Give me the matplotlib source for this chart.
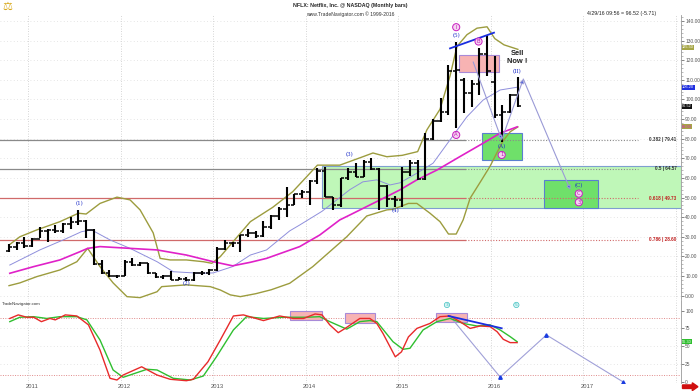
import matplotlib
matplotlib.use('Agg')
import numpy as np
import matplotlib.pyplot as plt
from matplotlib.patches import Rectangle, FancyArrow

# monthly bars, index 0 = Oct 2010 ... 66 = Apr 2016
bar_open = [23.0, 25.0, 27.0, 25.2, 29.0, 33.0, 33.5, 33.2, 36.5, 37.5,
            37.9, 33.6, 16.2, 11.5, 9.9, 10.0, 17.2, 15.8, 16.4, 11.5,
            9.3, 9.8, 8.1, 8.7, 7.8, 11.5, 11.6, 13.2, 23.6, 26.9,
            27.0, 30.9, 32.1, 30.2, 34.9, 40.4, 44.2, 46.1, 52.0, 52.6,
            58.4, 63.7, 50.3, 46.0, 59.7, 62.9, 60.3, 68.1, 64.5, 56.1,
            49.3, 48.8, 63.1, 67.8, 59.5, 79.6, 89.2, 93.8, 114.3, 110.0,
            103.3, 108.0, 123.3, 109.0, 91.8, 93.4, 102.2]
bar_high = [26.1, 27.5, 30.0, 29.5, 35.2, 34.0, 36.0, 37.0, 40.0, 43.7,
            38.6, 34.0, 18.0, 13.0, 10.5, 18.2, 19.0, 17.3, 16.7, 11.6,
            10.4, 12.4, 9.7, 9.4, 12.2, 12.7, 13.6, 25.0, 28.4, 27.5,
            31.0, 33.8, 33.0, 38.0, 41.0, 45.0, 55.5, 52.0, 54.0, 59.0,
            65.0, 65.7, 50.5, 60.0, 65.0, 67.6, 69.0, 70.0, 65.0, 56.5,
            51.0, 65.6, 69.0, 69.0, 83.0, 90.0, 100.7, 117.5, 129.0, 111.0,
            110.0, 126.0, 133.0, 122.0, 97.0, 103.0, 111.5]
bar_low = [22.2, 23.3, 24.2, 25.0, 29.3, 27.5, 32.0, 32.0, 34.0, 36.0,
           29.3, 15.6, 11.0, 9.4, 9.2, 10.0, 15.0, 15.0, 11.2, 9.0,
           8.7, 8.0, 8.1, 7.3, 7.6, 10.4, 10.5, 12.7, 23.3, 25.0,
           22.4, 30.0, 29.5, 30.0, 34.0, 38.6, 40.3, 46.0, 50.0, 46.0,
           57.0, 50.2, 43.7, 45.4, 59.0, 60.3, 60.3, 64.0, 43.7, 45.4,
           45.0, 45.3, 61.0, 58.8, 59.0, 79.4, 88.4, 92.0, 85.4, 93.3,
           96.0, 102.0, 112.0, 90.5, 78.4, 93.0, 96.0]
bar_close = [25.0, 27.0, 25.2, 29.0, 33.0, 33.5, 33.2, 36.5, 37.5, 37.9,
             33.6, 16.2, 11.5, 9.9, 9.9, 17.2, 15.8, 16.4, 11.5, 9.3,
             9.8, 8.1, 8.7, 7.8, 11.5, 11.6, 13.2, 23.6, 26.9, 27.0,
             30.9, 32.1, 30.2, 34.9, 40.4, 44.2, 46.1, 52.0, 52.6, 58.4,
             63.7, 50.3, 46.0, 59.7, 62.9, 60.3, 68.1, 64.5, 56.1, 49.3,
             48.8, 63.1, 67.8, 59.5, 79.6, 89.2, 93.8, 114.3, 115.0, 103.3,
             108.0, 123.3, 114.4, 91.8, 93.4, 102.2, 96.5]

# overlay lines (month index, value)
bb_up_x = [0, 1.4, 3.6, 6.6, 9, 10, 11.8, 14, 15.7, 17, 18.7, 19.6, 20.9, 23, 25.2, 26.3,
           27.4, 31.3, 34.2, 36.8, 40, 42.9, 45.9, 47.2, 49, 51, 53, 54.2, 55.9, 57.2,
           58.1, 59.4, 60.7, 62, 63, 64.2, 66]
bb_up = [25.8, 30, 33.5, 37.7, 42, 41.6, 47, 50.2, 48.8, 43.7, 32, 19, 18.2, 18.2, 17.3, 16.5,
         19.9, 37.7, 45, 53, 66.5, 66.5, 70.8, 72.7, 70.8, 71.5, 73.4, 84.5, 95, 112,
         127, 133, 136.3, 137, 131, 127.8, 125.5]
bb_lo_x = [0, 1.4, 3.6, 6.6, 8.8, 10.2, 11.8, 13.5, 15.3, 17, 19.2, 19.8, 23, 26.1, 27.4,
           28.7, 30, 32, 34, 36.4, 39.4, 41.6, 43.8, 46.4, 49, 49.8, 51.8, 52.9, 54.6, 55.9,
           57, 58, 58.9, 59.8, 61.3, 62.4, 63.3, 64.1, 65, 66]
bb_lo = [5.1, 6.5, 9.7, 13.1, 17.3, 24.1, 14.8, 6.5, -0.5, -1.0, 2.0, 4.6, 5.5, 4.6, 2.9,
         0.4, -0.5, 1.0, 3.0, 6.3, 14.8, 22.4, 30, 40.6, 43.7, 44, 47, 47, 42, 37.7,
         31.4, 31.4, 38.6, 49.6, 59, 66, 73, 79, 83.5, 86]
ma_fast_x = [0.1, 4, 7.5, 9.4, 10.7, 13.1, 15.7, 19.2, 21.3, 24.8, 26.5, 29, 31.3, 33.4,
             36.4, 37.7, 40.6, 42.9, 44.2, 45.9, 47.7, 49.4, 50.7, 52.9, 55, 57.2, 59.4,
             61.5, 63.7, 65.9]
ma_fast = [15.6, 23.3, 29.2, 32.6, 33.5, 28.4, 24.1, 17.3, 12.2, 11.4, 11.6, 14.8, 20.7, 23.3,
           33, 36, 43, 50, 54, 58, 59, 56.4, 57.5, 62.4, 67.5, 79.4, 91.2, 99.7, 104.8, 106.2]
ma_slow_x = [0.1, 3.2, 6.6, 9.2, 10.2, 11.8, 15.7, 19.2, 23, 26.5, 29, 31.3, 33.4, 37.7,
             40.3, 42.9, 44.2, 46.8, 49, 50.7, 52.9, 55.5, 58.5, 61.5, 63.7, 65.9]
ma_slow = [11.4, 14.8, 18.2, 22.4, 24.1, 25, 24.1, 23.3, 20.7, 17.3, 15.2, 17, 19, 25,
           30.9, 38.6, 41.1, 46.2, 50.5, 53.9, 59, 64, 70.9, 77.7, 82.8, 86]

# stochastic panel
stoch_k_x = [0.1, 1.2, 2.3, 3.2, 4.2, 5.3, 6, 7.3, 8.8, 10.3, 11.8, 13.1, 14, 14.8, 17.2,
             19.2, 20.9, 23, 23.9, 25.8, 27.4, 29.1, 30.4, 33, 35.1, 36.9, 38.2, 39.7, 40.6,
             41.6, 42.7, 43.6, 45.5, 46.8, 47.7, 48.5, 50.1, 50.9, 51.8, 52.9, 54.6, 55.9,
             57.2, 58.5, 59.8, 61.1, 62.4, 63.3, 64.1, 65, 65.9]
stoch_k = [89, 94, 90.7, 90.7, 84.5, 89, 87, 94, 92.5, 80, 44.6, 4.8, 2.4, 9.4, 21,
           9.4, 3.4, 1.4, 3.4, 28, 58.7, 92.5, 94, 86, 92.5, 89, 89, 95.3, 94,
           80, 69, 75, 89, 89, 82, 68, 35, 42, 63, 75, 82, 91.5,
           92.5, 84.5, 75, 78.4, 77.5, 70.4, 59.7, 55, 55]
stoch_d_x = [0.1, 1.4, 3.2, 4.9, 6.6, 8.8, 10.1, 11.8, 13.5, 14.8, 17.9, 19.2, 21.3, 23.5,
             25.2, 26.9, 29.1, 30.8, 33, 35.6, 38.6, 40.3, 41.6, 43.8, 45.5, 46.8, 47.7,
             49.8, 51.1, 52, 53.7, 55.5, 57.2, 58.9, 60.7, 62.4, 63.7, 65, 65.9]
stoch_d = [84.5, 90.7, 91.5, 89, 91.5, 91.5, 87, 58.7, 16.5, 6.2, 17.5, 16.5, 4.8, 2.4,
           8, 35, 72.8, 91.5, 89, 90.7, 90.7, 91.5, 84.5, 74, 84.5, 86, 84.5,
           56.3, 45.6, 47, 72.8, 84.5, 89, 82, 78.4, 80, 72.8, 63.4, 56.3]

fib_levels = ['0.382', '0.5', '0.618', '0.786']
fib_prices = [79.41, 64.57, 49.73, 28.60]
fib_colors = ['#8a8a8a', '#8a8a8a', '#d06a6a', '#d06a6a']

year_labels = ['2011', '2012', '2013', '2014', '2015', '2016', '2017']
price_ticks = list(range(0, 141, 10))
osc_ticks = [0, 25, 50, 75, 100]

SMALL = 'Liberation Sans'

fig = plt.figure(figsize=(7, 3.91), dpi=100)
ax = fig.add_axes([0, 0.2363, 0.9729, 0.7253])
ax2 = fig.add_axes([0, 0.0205, 0.9729, 0.2123], sharex=ax)

xmin, xmax = -1.17, 87.16
grid_c = '#c8c8c8'
for a in (ax, ax2):
    for s in ('left', 'top', 'bottom'):
        a.spines[s].set_visible(False)
    a.spines['right'].set_color('#999999')
    a.spines['right'].set_linewidth(0.6)
    a.yaxis.tick_right()
    for k in range(8):
        a.axvline(2.5 + 12 * k, color=grid_c, ls=(0, (1, 2)), lw=0.6, zorder=0)

# ---- price panel
ax.set_xlim(xmin, xmax)
ax.set_ylim(-1.5, 143)
for p in price_ticks:
    ax.axhline(p, color='#dddddd', ls=(0, (1, 3)), lw=0.6, zorder=0)
ax.set_yticks(price_ticks)
ax.set_yticklabels([f'{p:.2f}' for p in price_ticks], family=SMALL)
ax.set_yticks(np.arange(0, 143, 2), minor=True)
ax.tick_params(axis='y', which='major', labelsize=3.5, colors='#555555', length=2, width=0.5, pad=1)
ax.tick_params(axis='y', which='minor', length=1.2, width=0.4, colors='#888888')
ax.tick_params(axis='x', bottom=False, labelbottom=False)

# green zones
ax.add_patch(Rectangle((40.6, 44.5), xmax - 40.6, 66.0 - 44.5, fc='#bff7b8', ec='#7f9fd0', lw=0.8, zorder=1))
ax.add_patch(Rectangle((61.4, 69.2), 5.1, 13.6, fc='#6fe06a', ec='#5a7fd0', lw=0.8, zorder=1))
ax.add_patch(Rectangle((69.4, 44.9), 7.0, 14.1, fc='#6fe06a', ec='#5a7fd0', lw=0.8, zorder=1))
ax.add_patch(Rectangle((58.4, 114.2), 5.2, 8.5, fc='#f7b3b3', ec='#a88ad8', lw=0.8, zorder=1))

# fibonacci lines
for lev, p, c in zip(fib_levels, fib_prices, fib_colors):
    ax.plot([xmin, 59.1], [p, p], color=c, lw=0.9, zorder=2)
    ax.plot([59.1, 81.6], [p, p], color=c, lw=0.8, ls=(0, (1, 1.5)), zorder=2)
    ax.text(86.6, p, f'{lev} | {p:.2f}', ha='right', va='center', fontsize=3.3, family=SMALL,
            color='#333333' if c == '#8a8a8a' else '#c02020', fontweight='bold', zorder=3)

ax.plot(bb_up_x, bb_up, color='#9c9c3e', lw=1.0, zorder=3)
ax.plot(bb_lo_x, bb_lo, color='#9c9c3e', lw=1.0, zorder=3)
ax.plot(ma_fast_x, ma_fast, color='#8f8fdc', lw=0.7, zorder=3)
ax.plot(ma_slow_x, ma_slow, color='#e021c8', lw=1.2, zorder=3)

idx = np.arange(len(bar_open))
ax.vlines(idx, bar_low, bar_high, color='black', lw=1.5, zorder=4)
ax.hlines(bar_open, idx - 0.45, idx, color='black', lw=1.1, zorder=4)
ax.hlines(bar_close, idx, idx + 0.45, color='black', lw=1.1, zorder=4)

# trend line and projection arrows
ax.plot([57.2, 62.9], [126.0, 134.0], color='#1a2ee0', lw=1.3, zorder=5)
arrow_kw = dict(arrowstyle='-|>', ec='#9a9ad6', fc='#1a3ce0', lw=0.8, mutation_scale=6,
                shrinkA=0, shrinkB=0)
ax.annotate('', xy=(63.9, 79.4), xytext=(60.2, 119.1), arrowprops=arrow_kw, zorder=5)
ax.annotate('', xy=(66.7, 110.4), xytext=(63.9, 79.4), arrowprops=arrow_kw, zorder=5)
ax.annotate('', xy=(72.8, 53.9), xytext=(66.7, 110.4), arrowprops=arrow_kw, zorder=5)

circ = dict(boxstyle='circle,pad=0.2', fc='#f6d2f2', ec='#c81fc0', lw=0.7)
for x, y, t in [(58.0, 136.8, 'I'), (60.9, 129.5, 'B'), (58.0, 81.9, 'A'),
                (63.9, 71.7, '1'), (73.9, 52.0, 'C'), (73.9, 47.6, '3')]:
    ax.text(x, y, t, ha='center', va='center', fontsize=3.8, color='#b81fb0', bbox=circ, zorder=6)
for x, y, t in [(58.0, 132.4, '(5)'), (63.9, 75.9, '(A)'), (65.9, 114.0, '(II)'),
                (73.9, 55.9, '(C)'), (9.1, 46.8, '(1)'), (23.0, 6.3, '(2)'),
                (44.1, 71.7, '(3)'), (50.1, 43.2, '(4)')]:
    ax.text(x, y, t, ha='center', va='center', fontsize=4, color='#2030c8',
            family='serif', zorder=6)
ax.text(65.9, 121.3, 'Sell\nNow !', ha='center', va='center', fontsize=5.4, family=SMALL,
        fontweight='bold', color='#222222', linespacing=1.15, zorder=6)

# right-side value tags
def tag(a, y, s, fc, tc):
    a.annotate(s, xy=(1.0015, y), xycoords=('axes fraction', 'data'), ha='left', va='center',
               fontsize=2.8, family=SMALL, color=tc, annotation_clip=False,
               bbox=dict(boxstyle='square,pad=0.12', fc=fc, ec='none'))

tag(ax, 126.5, f'{bb_up[-1]:.2f}', '#a6a646', '#ffffff')
tag(ax, 106.2, f'{ma_fast[-1]:.2f}', '#2030e0', '#ffffff')
tag(ax, 96.5, '96.52', '#111111', '#ffffff')
tag(ax, 86.0, f'{bb_lo[-1]:.2f}', '#a6a646', '#e021c8')

# ---- oscillator panel
ax2.set_ylim(-1.8, 115)
for v in (25, 50, 75):
    ax2.axhline(v, color='#dddddd', ls=(0, (1, 3)), lw=0.6, zorder=0)
for v in (90, 10):
    ax2.axhline(v, color='#e08a8a', ls=(0, (1, 1.5)), lw=0.7, zorder=1)
ax2.set_yticks(osc_ticks)
ax2.set_yticklabels([str(v) for v in osc_ticks], family=SMALL)
ax2.tick_params(axis='y', labelsize=3.5, colors='#555555', length=2, width=0.5, pad=1)
ax2.set_xticks([3 + 12 * k for k in range(len(year_labels))])
ax2.set_xticklabels(year_labels, family=SMALL)
ax2.tick_params(axis='x', length=0, labelsize=4.2, colors='#555555', pad=1)

for x0, y0, w, h in [(36.4, 86.9, 4.2, 12.7), (43.6, 82.3, 3.9, 14.0), (55.4, 83.7, 4.0, 13.5)]:
    ax2.add_patch(Rectangle((x0, y0), w, h, fc='#f7b3b3', ec='#a88ad8', lw=0.8, zorder=1))

ax2.plot(stoch_d_x, stoch_d, color='#2fbf2f', lw=1.0, zorder=3)
ax2.plot(stoch_k_x, stoch_k, color='#e82a2a', lw=1.0, zorder=3)
ax2.plot([57.0, 63.9], [92.5, 75.2], color='#1a2ee0', lw=1.3, zorder=4)

ax2.plot([57.4, 63.7, 69.7, 79.6], [89.3, 6.6, 65.8, 0.0], color='#a0a0d8', lw=0.8, zorder=2)
ax2.plot([63.7, 69.7, 79.6], [6.6, 65.8, 0.0], ls='none', marker='^', ms=2.5, color='#1a3ce0', zorder=4)
for x in (56.8, 65.8):
    ax2.text(x, 108, '3' if x < 60 else '5', ha='center', va='center', fontsize=3.2, color='#40c0c0',
             bbox=dict(boxstyle='circle,pad=0.15', fc='#d8f4f4', ec='#40c0c0', lw=0.5))
tag(ax2, 56.3, f'{stoch_d[-1]:.2f}', '#2fbf2f', '#ffffff')
ax2.text(0.003, 0.97, 'TradeNavigator.com', transform=ax2.transAxes, fontsize=3.2, family=SMALL,
         color='#333333', va='top')

# ---- header
fig.text(0.5, 0.992, 'NFLX: Netflix, Inc. @ NASDAQ (Monthly bars)', ha='center', va='top',
         fontsize=3.8, family=SMALL, fontweight='bold', color='#222222')
fig.text(0.5, 0.972, 'www.TradeNavigator.com \u00a9 1999-2016', ha='center', va='top',
         fontsize=3.6, family=SMALL, color='#333333')
fig.text(0.937, 0.972, '4/29/16 09:56 = 96.52 (-5.71)', ha='right', va='top',
         fontsize=3.8, family=SMALL, color='#222222')
fig.text(0.004, 0.995, '\u2696', ha='left', va='top', fontsize=8, color='#d8a818')

fig.add_artist(FancyArrow(0.975, 0.011, 0.014, 0, width=0.009, head_width=0.02, head_length=0.008,
                          transform=fig.transFigure, color='#d01010', length_includes_head=False))

fig.savefig('out.png', dpi=100, facecolor='white')
